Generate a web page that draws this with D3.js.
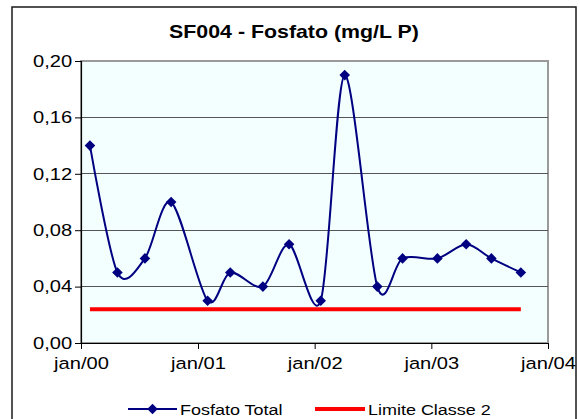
<!DOCTYPE html>
<html><head><meta charset="utf-8">
<script src="https://cdn.jsdelivr.net/npm/d3@7"></script>
<style>body{margin:0;background:#fff}svg{display:block}</style>
</head><body><svg id="c" width="580" height="419"></svg>
<script>
const dates = ["2000-01-29","2000-04-24","2000-07-19","2000-10-09","2001-01-31","2001-04-12","2001-07-23","2001-10-13","2002-01-20","2002-04-05","2002-07-16","2002-10-03","2003-01-20","2003-04-20","2003-07-08","2003-10-08"];
const fosfatoTotal = [0.14,0.05,0.06,0.10,0.03,0.05,0.04,0.07,0.03,0.19,0.04,0.06,0.06,0.07,0.06,0.05];
const limiteClasse2 = [0.024,0.024,0.024,0.024,0.024,0.024,0.024,0.024,0.024,0.024,0.024,0.024,0.024,0.024,0.024,0.024];
const yTicks = [0,0.04,0.08,0.12,0.16,0.20];
const yTickLabels = ["0,00","0,04","0,08","0,12","0,16","0,20"];
const xTicks = ["2000-01-01","2001-01-01","2002-01-01","2003-01-01","2004-01-01"];
const xTickLabels = ["jan/00","jan/01","jan/02","jan/03","jan/04"];
const seriesNames = ["Fosfato Total","Limite Classe 2"];
const titleText = "SF004 - Fosfato (mg/L P)";

const parse = d3.timeParse("%Y-%m-%d");
const font = "'Liberation Sans', Arial, sans-serif";
const SX = 1.22;
const svg = d3.select("#c");
svg.append("rect").attr("width",580).attr("height",419).attr("fill","#fff");
svg.append("rect").attr("x",12).attr("y",7).attr("width",564).attr("height",430)
  .attr("fill","none").attr("stroke","#1a1a1a").attr("stroke-width",1.5);

const L=81, R=548, T=61, B=343;
const x = d3.scaleTime().domain([parse(xTicks[0]), parse(xTicks[xTicks.length-1])]).range([L,R]);
const y = d3.scaleLinear().domain([0,0.2]).range([B,T]);

svg.append("rect").attr("x",L).attr("y",T).attr("width",R-L).attr("height",B-T)
  .attr("fill","#F3FFFF").attr("stroke","#9a9a9a").attr("stroke-width",1.2).attr("shape-rendering","crispEdges");

svg.append("g").selectAll("line").data(yTicks.slice(1,-1)).join("line")
  .attr("x1",L).attr("x2",R).attr("y1",d=>y(d)).attr("y2",d=>y(d))
  .attr("stroke","#555").attr("stroke-width",1).attr("shape-rendering","crispEdges");

const gy = svg.append("g").attr("transform",`translate(${L},0)`)
  .call(d3.axisLeft(y).tickValues(yTicks).tickSize(6).tickPadding(1.2).tickFormat((d,i)=>yTickLabels[i]));
const gx = svg.append("g").attr("transform",`translate(0,${B})`)
  .call(d3.axisBottom(x).tickValues(xTicks.map(parse)).tickSize(6).tickPadding(8).tickFormat((d,i)=>xTickLabels[i]));
[gy,gx].forEach(g=>{
  g.select(".domain").attr("stroke","#000").attr("stroke-width",1.2);
  g.selectAll(".tick line").attr("stroke","#000");
  g.selectAll("text").attr("font-family",font).attr("font-size","16.5px").attr("fill","#000")
   .attr("transform",`scale(${SX},1)`);
});
gy.select(".domain").attr("d",`M0.5,${T}V${B}`);
gx.select(".domain").attr("d",`M${L},0.5H${R}`);

const pts = dates.map((d,i)=>({d:parse(d), v:fosfatoTotal[i], l:limiteClasse2[i]}));
svg.append("path").datum(pts)
  .attr("d", d3.line().x(p=>x(p.d)).y(p=>y(p.l)))
  .attr("fill","none").attr("stroke","#ff0000").attr("stroke-width",4);
svg.append("path").datum(pts)
  .attr("d", d3.line().x(p=>x(p.d)).y(p=>y(p.v)).curve(d3.curveCardinal.tension(0.1)))
  .attr("fill","none").attr("stroke","#000080").attr("stroke-width",2);
const sym = d3.symbol().type(d3.symbolSquare).size(56);
svg.append("g").selectAll("path").data(pts).join("path")
  .attr("d", sym()).attr("fill","#000080")
  .attr("transform", p=>`translate(${x(p.d)},${y(p.v)}) rotate(45)`);

svg.append("text").attr("transform",`translate(294,38) scale(${SX},1)`)
  .attr("text-anchor","middle").attr("font-family",font).attr("font-weight","bold")
  .attr("font-size","17.5px").text(titleText);

// legend
const LY = 409;
const legend = [
  {name:seriesNames[0], x0:128, x1:177, color:"#000080", w:2, marker:true},
  {name:seriesNames[1], x0:315, x1:365, color:"#ff0000", w:4, marker:false}
];
legend.forEach(it=>{
  svg.append("line").attr("x1",it.x0).attr("x2",it.x1).attr("y1",LY).attr("y2",LY)
    .attr("stroke",it.color).attr("stroke-width",it.w);
  if(it.marker) svg.append("path").attr("d",sym()).attr("fill",it.color)
    .attr("transform",`translate(${(it.x0+it.x1)/2},${LY}) rotate(45)`);
  svg.append("text").attr("transform",`translate(${it.x1+3},${LY+5.5}) scale(1.16,1)`)
    .attr("font-family",font).attr("font-size","15.5px").attr("fill","#000").text(it.name);
});
</script></body></html>
